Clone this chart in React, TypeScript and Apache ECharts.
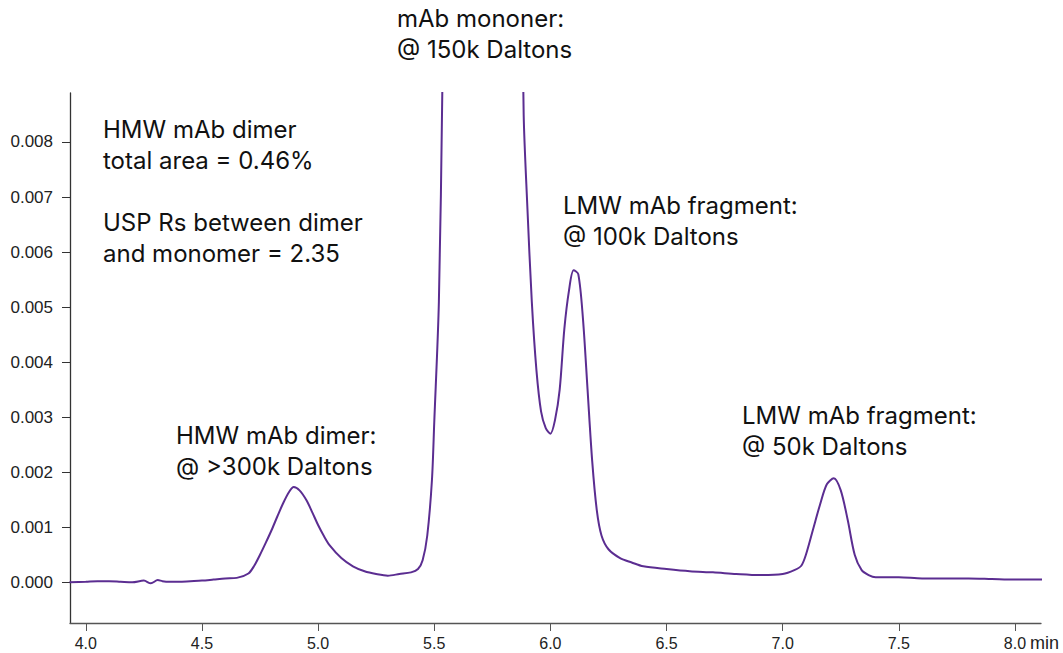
import React, { useEffect, useRef } from "react";
import * as echarts from "echarts";

const timeMin = [
  3.93, 4.0, 4.05, 4.1, 4.15, 4.2, 4.25, 4.28, 4.31, 4.33, 4.36, 4.4, 4.45, 4.5, 4.55, 4.6, 4.65,
  4.7, 4.725, 4.75, 4.775, 4.8, 4.825, 4.85, 4.875, 4.895, 4.92, 4.95, 4.975, 5.0, 5.025, 5.05,
  5.1, 5.15, 5.2, 5.25, 5.3, 5.35, 5.4, 5.43, 5.45, 5.47, 5.49, 5.5, 5.52, 5.535, 5.55, 5.6,
  5.72, 5.85, 5.875, 5.885, 5.9, 5.92, 5.94, 5.96, 5.98, 6.0, 6.02, 6.04, 6.06, 6.08, 6.1,
  6.12, 6.14, 6.16, 6.18, 6.2, 6.22, 6.25, 6.3, 6.35, 6.4, 6.5, 6.6, 6.7, 6.8, 6.9, 7.0,
  7.05, 7.08, 7.1, 7.13, 7.16, 7.19, 7.22, 7.25, 7.28, 7.31, 7.34, 7.37, 7.4, 7.5, 7.6, 7.7,
  7.8, 7.9, 8.0, 8.12,
];
const absorbance = [
  0.0, 0.00001, 0.00002, 0.00002, 0.00001, 0.0, 0.00003, -0.00002, 0.00004, 0.00002, 0.00001,
  0.00001, 0.00002, 0.00003, 0.00005, 0.00007, 0.00008, 0.00016, 0.0003, 0.0005, 0.00072,
  0.00095, 0.0012, 0.00144, 0.00164, 0.00173, 0.00167, 0.00149, 0.00127, 0.00104, 0.00084,
  0.00067, 0.00044, 0.00029, 0.0002, 0.00015, 0.00012, 0.00015, 0.00018, 0.00024, 0.0004,
  0.00085, 0.00185, 0.0029, 0.0051, 0.009, 0.015, 0.03, 0.04, 0.025, 0.012, 0.0085, 0.0069,
  0.0051, 0.00385, 0.0031, 0.0028, 0.0027, 0.00295, 0.0035, 0.0046, 0.0053, 0.00567, 0.0056,
  0.0048, 0.0035, 0.0022, 0.0013, 0.00085, 0.0006, 0.00044, 0.00036, 0.00029, 0.00024, 0.0002,
  0.00018, 0.00015, 0.00013, 0.00015, 0.00022, 0.0003, 0.0005, 0.00095, 0.0014, 0.00178,
  0.00189, 0.00167, 0.00113, 0.0005, 0.00022, 0.00013, 0.00009, 0.00009, 0.00007, 0.00007,
  0.00007, 0.00006, 0.00005, 0.00005,
];
const xTicks = [4.0, 4.5, 5.0, 5.5, 6.0, 6.5, 7.0, 7.5, 8.0];
const yTicks = [0, 0.001, 0.002, 0.003, 0.004, 0.005, 0.006, 0.007, 0.008];
const annotations = [
  { lines: ["mAb mononer:", "@ 150k Daltons"], x: 397, y: 3 },
  { lines: ["HMW mAb dimer", "total area = 0.46%", "", "USP Rs between dimer", "and monomer = 2.35"], x: 103, y: 114 },
  { lines: ["LMW mAb fragment:", "@ 100k Daltons"], x: 563, y: 190 },
  { lines: ["HMW mAb dimer:", "@ >300k Daltons"], x: 176, y: 420 },
  { lines: ["LMW mAb fragment:", "@ 50k Daltons"], x: 742, y: 400 },
];

const tickFont = "'Liberation Sans', Arial, sans-serif";
const noteFont = "Inter, 'Liberation Sans', sans-serif";

export default function App() {
  const ref = useRef<HTMLDivElement>(null);
  useEffect(() => {
    if (!ref.current) return;
    const chart = echarts.init(ref.current, null, { renderer: "svg" });
    const data = timeMin.map((t, i) => [t, absorbance[i]]);
    chart.setOption({
      animation: false,
      backgroundColor: "#ffffff",
      grid: { left: 70, right: 22, top: 93, bottom: 30, containLabel: false },
      xAxis: {
        type: "value",
        min: 3.932,
        max: 8.112,
        splitLine: { show: false },
        axisLine: { show: true, onZero: false, lineStyle: { color: "#555", width: 1.3 } },
        axisTick: { show: true, length: 8, customValues: xTicks, lineStyle: { color: "#555" } },
        axisLabel: {
          customValues: xTicks,
          margin: 12,
          fontSize: 16,
          color: "#222",
          fontFamily: tickFont,
          formatter: (v: number) => v.toFixed(1),
        },
      },
      yAxis: {
        type: "value",
        min: -0.00074,
        max: 0.00889,
        splitLine: { show: false },
        axisLine: { show: true, onZero: false, lineStyle: { color: "#333", width: 1.3 } },
        axisTick: { show: true, length: 8, customValues: yTicks, lineStyle: { color: "#333" } },
        axisLabel: {
          customValues: yTicks,
          margin: 17,
          fontSize: 17,
          color: "#222",
          fontFamily: tickFont,
          formatter: (v: number) => v.toFixed(3),
        },
      },
      series: [
        {
          type: "line",
          data,
          smooth: 0.3,
          showSymbol: false,
          clip: true,
          lineStyle: { color: "#5b2d91", width: 2 },
        },
      ],
      graphic: [
        {
          type: "text",
          left: 1030,
          top: 634,
          style: { text: "min", fontSize: 18, fill: "#222", fontFamily: tickFont },
        },
        ...annotations.map((a) => ({
          type: "text",
          left: a.x,
          top: a.y,
          style: {
            text: a.lines.join("\n"),
            fontSize: 24,
            lineHeight: 31,
            fill: "#111",
            fontFamily: noteFont,
          },
        })),
      ],
    });
    return () => chart.dispose();
  }, []);
  return (
    <div
      ref={ref}
      style={{ position: "fixed", left: 0, top: 0, width: 1063, height: 653 }}
    />
  );
}
